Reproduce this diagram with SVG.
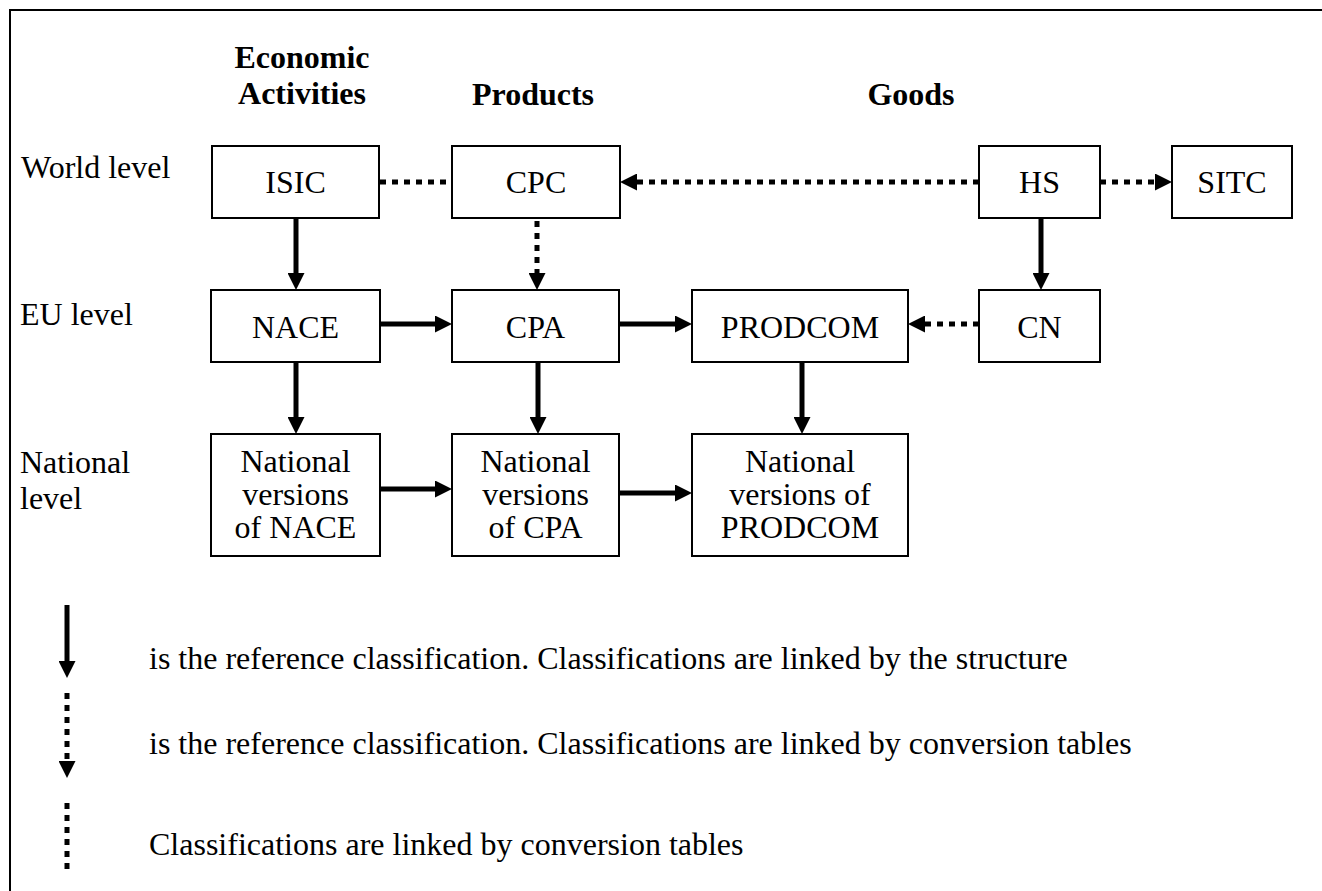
<svg xmlns="http://www.w3.org/2000/svg" width="1322" height="891" viewBox="0 0 1322 891" font-family="'Liberation Serif', 'Times New Roman', Tinos, 'DejaVu Serif', serif">
<style>
text{font-family:'Liberation Serif','Times New Roman',Tinos,'Nimbus Roman','DejaVu Serif',serif;font-size:32px;fill:#000}
.b{font-weight:bold}
.m{text-anchor:middle}
.box{fill:#fff;stroke:#000;stroke-width:2}
.s{stroke:#000;stroke-width:5;fill:none}
.d{stroke:#000;stroke-width:5;fill:none;stroke-dasharray:6 6}
</style>
<defs>
<marker id="arr" markerUnits="userSpaceOnUse" markerWidth="17" markerHeight="17" viewBox="0 0 17 17" refX="6" refY="8.5" orient="auto">
<path d="M0,0 L17,8.5 L0,17 z" fill="#000"/>
</marker>
</defs>
<rect x="0" y="0" width="1322" height="891" fill="#fff"/>
<path d="M10,891 L10,10 L1322,10" fill="none" stroke="#000" stroke-width="2"/>
<g id="headers">
<text class="b m" x="302" y="68">Economic</text>
<text class="b m" x="302" y="104">Activities</text>
<text class="b m" x="533" y="105">Products</text>
<text class="b m" x="911" y="105">Goods</text>
</g>
<g id="row-labels">
<text x="21" y="178">World level</text>
<text x="20" y="325">EU level</text>
<text x="20" y="473">National</text>
<text x="20" y="509">level</text>
</g>
<g id="connectors">
<line class="d" x1="380" y1="182" x2="452" y2="182"/>
<line class="d" x1="979" y1="182" x2="631" y2="182" marker-end="url(#arr)"/>
<line class="d" x1="1100" y1="182" x2="1161" y2="182" marker-end="url(#arr)"/>
<line class="s" x1="296" y1="218" x2="296" y2="279" marker-end="url(#arr)"/>
<line class="d" x1="537" y1="221" x2="537" y2="279" marker-end="url(#arr)"/>
<line class="s" x1="1041" y1="218" x2="1041" y2="279" marker-end="url(#arr)"/>
<line class="s" x1="380" y1="324" x2="441" y2="324" marker-end="url(#arr)"/>
<line class="s" x1="619" y1="324" x2="681" y2="324" marker-end="url(#arr)"/>
<line class="d" x1="979" y1="324" x2="919" y2="324" marker-end="url(#arr)"/>
<line class="s" x1="296" y1="362" x2="296" y2="423" marker-end="url(#arr)"/>
<line class="s" x1="538" y1="362" x2="538" y2="423" marker-end="url(#arr)"/>
<line class="s" x1="802" y1="362" x2="802" y2="423" marker-end="url(#arr)"/>
<line class="s" x1="380" y1="489" x2="441" y2="489" marker-end="url(#arr)"/>
<line class="s" x1="619" y1="493" x2="681" y2="493" marker-end="url(#arr)"/>
</g>
<g id="ISIC"><rect class="box" x="212" y="146" width="167" height="72"/><text class="m" x="295.5" y="193">ISIC</text></g>
<g id="CPC"><rect class="box" x="452" y="146" width="168" height="72"/><text class="m" x="536" y="193">CPC</text></g>
<g id="HS"><rect class="box" x="979" y="146" width="121" height="72"/><text class="m" x="1039.5" y="193">HS</text></g>
<g id="SITC"><rect class="box" x="1172" y="146" width="120" height="72"/><text class="m" x="1232" y="193">SITC</text></g>
<g id="NACE"><rect class="box" x="211" y="290" width="169" height="72"/><text class="m" x="295.5" y="338">NACE</text></g>
<g id="CPA"><rect class="box" x="452" y="290" width="167" height="72"/><text class="m" x="535.5" y="338">CPA</text></g>
<g id="PRODCOM"><rect class="box" x="692" y="290" width="216" height="72"/><text class="m" x="800" y="338">PRODCOM</text></g>
<g id="CN"><rect class="box" x="979" y="290" width="121" height="72"/><text class="m" x="1039.5" y="338">CN</text></g>
<g id="NatNACE"><rect class="box" x="211" y="434" width="169" height="122"/>
<text class="m" x="295.5" y="472">National</text><text class="m" x="295.5" y="505">versions</text><text class="m" x="295.5" y="538">of NACE</text></g>
<g id="NatCPA"><rect class="box" x="452" y="434" width="167" height="122"/>
<text class="m" x="535.5" y="472">National</text><text class="m" x="535.5" y="505">versions</text><text class="m" x="535.5" y="538">of CPA</text></g>
<g id="NatPRODCOM"><rect class="box" x="692" y="434" width="216" height="122"/>
<text class="m" x="800" y="472">National</text><text class="m" x="800" y="505">versions of</text><text class="m" x="800" y="538">PRODCOM</text></g>
<g id="legend">
<line class="s" x1="67" y1="605" x2="67" y2="667" marker-end="url(#arr)"/>
<line class="d" x1="67" y1="693" x2="67" y2="767" marker-end="url(#arr)"/>
<line class="d" x1="67" y1="803" x2="67" y2="869"/>
<text x="149" y="669">is the reference classification. Classifications are linked by the structure</text>
<text x="149" y="754">is the reference classification. Classifications are linked by conversion tables</text>
<text x="149" y="855">Classifications are linked by conversion tables</text>
</g>
</svg>
